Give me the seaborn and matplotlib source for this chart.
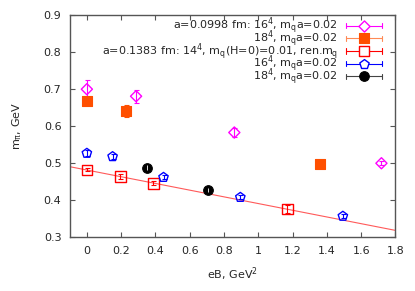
import numpy as np
import matplotlib
matplotlib.use("Agg")
import matplotlib.pyplot as plt
import seaborn as sns
from matplotlib.lines import Line2D

# ---- data ----
mag_x = [0.0, 0.287, 0.86, 1.718]
mag_y = [0.700, 0.681, 0.583, 0.500]
mag_e = [0.024, 0.018, 0.012, 0.005]

ora_x = [0.0, 0.227, 1.359]
ora_y = [0.668, 0.641, 0.497]
ora_e = [0.008, 0.017, 0.006]

red_x = [0.0, 0.196, 0.388, 1.169]
red_y = [0.482, 0.464, 0.446, 0.376]
red_e = [0.004, 0.006, 0.005, 0.010]

blu_x = [0.0, 0.150, 0.447, 0.895, 1.493]
blu_y = [0.527, 0.518, 0.462, 0.408, 0.357]
blu_e = [0.008, 0.006, 0.005, 0.005, 0.005]

blk_x = [0.353, 0.707]
blk_y = [0.488, 0.427]
blk_e = [0.006, 0.005]

labels = [
    r"a=0.0998 fm: 16$^4$, m$_\mathregular{q}$a=0.02",
    r"18$^4$, m$_\mathregular{q}$a=0.02",
    r"a=0.1383 fm: 14$^4$, m$_\mathregular{q}$(H=0)=0.01, ren.m$_\mathregular{q}$",
    r"16$^4$, m$_\mathregular{q}$a=0.02",
    r"18$^4$, m$_\mathregular{q}$a=0.02",
]

xticks = [0, 0.2, 0.4, 0.6, 0.8, 1.0, 1.2, 1.4, 1.6, 1.8]
xticklabels = ["0", "0.2", "0.4", "0.6", "0.8", "1", "1.2", "1.4", "1.6", "1.8"]
yticks = [0.3, 0.4, 0.5, 0.6, 0.7, 0.8, 0.9]

# ---- style ----
sns.set_style("ticks")
plt.rcParams["font.family"] = ["DejaVu Sans"]
plt.rcParams["mathtext.default"] = "regular"
FS = 8.0

C_MAG = "#ff00ff"
C_ORA = "#ff4f00"
C_ORA_L = "#ff8a55"
C_RED = "#ff0000"
C_BLU = "#0000ff"
C_BLK = "#000000"

fig = plt.figure(figsize=(4.15, 2.91), dpi=100)
ax = fig.add_axes([0.168, 0.1845, 0.785, 0.7635])

# fit line
coef = np.polyfit(red_x, red_y, 1)
lx = np.array([-0.1, 1.8])
sns.lineplot(x=lx, y=np.polyval(coef, lx), ax=ax, color="#ff5a5a", lw=0.8, zorder=1)

def series(x, y, e, col, marker, s, filled, ecol=None):
    ax.errorbar(x, y, yerr=e, fmt="none", ecolor=ecol or col, elinewidth=0.8,
                capsize=1.8, capthick=0.8, zorder=2)
    if filled:
        sns.scatterplot(x=x, y=y, ax=ax, marker=marker, s=s, color=col,
                        edgecolor=col, linewidth=0.8, zorder=3)
    else:
        sns.scatterplot(x=x, y=y, ax=ax, marker=marker, s=s, facecolors="none",
                        edgecolor=col, linewidth=1.0, zorder=3)

series(mag_x, mag_y, mag_e, C_MAG, "D", 32, False)
series(ora_x, ora_y, ora_e, C_ORA, "s", 48, True)
series(red_x, red_y, red_e, C_RED, "s", 58, False)
series(blu_x, blu_y, blu_e, C_BLU, "p", 50, False)
sns.scatterplot(x=blk_x, y=blk_y, ax=ax, marker="o", s=48, color=C_BLK,
                edgecolor=C_BLK, linewidth=0.8, zorder=3)
ax.errorbar(blk_x, blk_y, yerr=blk_e, fmt="none", ecolor="white",
            elinewidth=0.6, capsize=0, zorder=4)

ax.set_xlim(-0.1, 1.8)
ax.set_ylim(0.3, 0.9)
ax.set_xticks(xticks)
ax.set_xticklabels(xticklabels)
ax.set_yticks(yticks)
ax.tick_params(direction="in", top=True, right=True, labelsize=FS,
               length=3.5, width=0.8, color="#555555", pad=6)
for sp in ax.spines.values():
    sp.set_visible(True)
    sp.set_color("#555555")
    sp.set_linewidth(1.0)

ax.set_xlabel(r"eB, GeV$^2$", fontsize=FS, labelpad=7)
ax.set_ylabel(r"m$_\pi$, GeV", fontsize=FS, labelpad=14)

# ---- gnuplot-style legend (drawn in axes fraction) ----
x0, x1, y0, y1 = 69.8, 395.7, 15.0, 237.3
def fx(px): return (px - x0) / (x1 - x0)
def fy(py): return (y1 - py) / (y1 - y0)

leg = [
    (C_MAG, C_MAG, "D", 32, False),
    (C_ORA, C_ORA_L, "s", 48, True),
    (C_RED, C_RED, "s", 58, False),
    (C_BLU, C_BLU, "p", 50, False),
    (C_BLK, "#444444", "o", 48, True),
]
for i, (lab, (mc, lc, mk, s, filled)) in enumerate(zip(labels, leg)):
    py = 25.7 + 12.6 * i
    yy = fy(py)
    ax.text(fx(338), yy, lab, transform=ax.transAxes, ha="right", va="center",
            fontsize=FS, zorder=5)
    ax.add_line(Line2D([fx(346), fx(382)], [yy, yy], transform=ax.transAxes,
                       color=lc, lw=0.8, zorder=5))
    for cx in (346, 382):
        ax.add_line(Line2D([fx(cx), fx(cx)], [yy - 0.012, yy + 0.012],
                           transform=ax.transAxes, color=lc, lw=0.8, zorder=5))
    if filled:
        ax.scatter([fx(364)], [yy], transform=ax.transAxes, marker=mk, s=s,
                   color=mc, edgecolor=mc, linewidth=0.8, zorder=6, clip_on=False)
    else:
        ax.scatter([fx(364)], [yy], transform=ax.transAxes, marker=mk, s=s,
                   facecolors="white", edgecolor=mc, linewidth=1.0, zorder=6,
                   clip_on=False)

fig.savefig("out.png", dpi=100)
